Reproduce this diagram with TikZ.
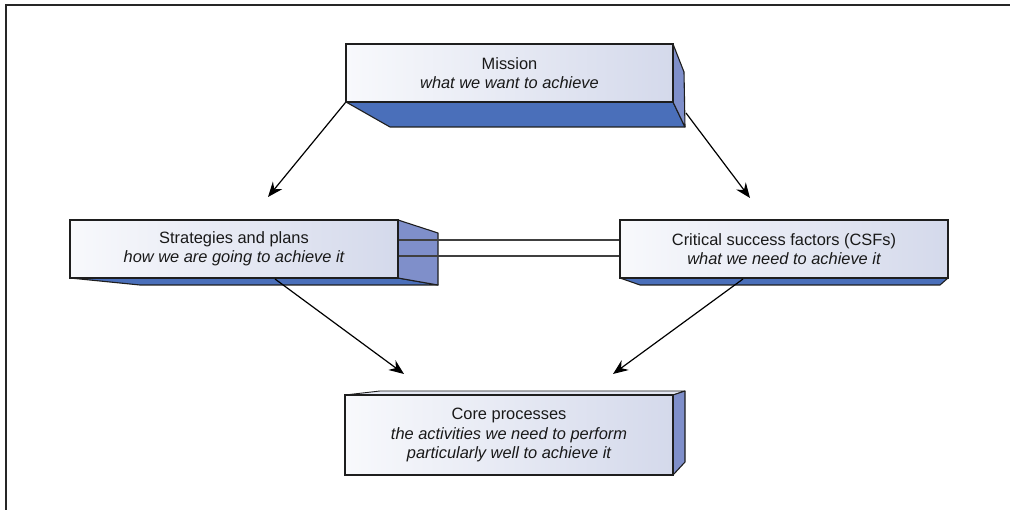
\documentclass[tikz,border=0pt]{standalone}
\usepackage{fontspec}
\setmainfont{Liberation Sans}
\usetikzlibrary{arrows.meta,calc}
\definecolor{botblue}{RGB}{74,111,186}
\definecolor{sideblue}{RGB}{127,143,202}
\definecolor{faceL}{RGB}{248,249,252}
\definecolor{faceR}{RGB}{212,217,235}
\definecolor{edge}{RGB}{30,30,30}
\begin{document}
\begin{tikzpicture}[x=1pt,y=-1pt,
  front/.style={draw=edge,line width=1.1pt,left color=faceL,right color=faceR,
    minimum width=328pt,minimum height=58pt,inner sep=0pt,align=center,
    font=\fontsize{16.4}{19.5}\selectfont,text=black!90},
  botface/.style={fill=botblue,draw=edge,line width=1.1pt,line join=round},
  sideface/.style={fill=sideblue,draw=edge,line width=1.1pt,line join=round},
  arr/.style={line width=1.2pt,draw=black,-{Stealth[length=15pt,width=12pt,inset=5pt]}},
  link/.style={line width=1.2pt,draw=black!75}]
\useasboundingbox (0,0) rectangle (1010,510);
% frame
\draw[line width=2pt,draw=black!85] (6,510) -- (6,5) -- (1010,5);
% mission faces
\path[botface] (346,102) -- (673,102) -- (685,127) -- (390,127) -- cycle;
\path[sideface] (673,44) -- (684,72) -- (685,127) -- (673,102) -- cycle;
% strategies faces
\path[botface] (70,278) -- (398,278) -- (438,285) -- (140,285) -- cycle;
\path[sideface] (398,220) -- (438,233) -- (438,285) -- (398,278) -- cycle;
% csf faces
\path[botface] (620,278) -- (948,278) -- (940,285) -- (640,285) -- cycle;
% core faces
\path[fill=faceR!60!white,draw=edge,line width=0.9pt,line join=round] (345,395) -- (380,391) -- (685,391) -- (673,395) -- cycle;
\path[sideface] (673,395) -- (685,391) -- (685,462) -- (673,475) -- cycle;
% nodes
\node[front,minimum width=327pt] (mission) at (509.5,73) {Mission\\\itshape what we want to achieve};
\node[front] (strat) at (234,249) {Strategies and plans\\\itshape how we are going to achieve it};
\node[front] (csf) at (784,249) {Critical success factors (CSFs)\\\itshape what we need to achieve it};
\node[front,minimum width=328pt,minimum height=80pt] (core) at (509,435) {Core processes\\\itshape the activities we need to perform\\\itshape particularly well to achieve it};
% links
\draw[link] (strat.east |- 0,240) -- (csf.west |- 0,240);
\draw[link] (strat.east |- 0,256) -- (csf.west |- 0,256);
% arrows
\coordinate (a1) at (268,197);
\coordinate (ms) at (686,113);
\coordinate (a2) at (750,198);
\coordinate (ss) at (275,279);
\coordinate (a3) at (404,374);
\coordinate (cs) at (743,279);
\coordinate (a4) at (613,374);
\draw[arr] (mission.south west) -- (a1);
\draw[arr] (ms) -- (a2);
\draw[arr] (ss) -- (a3);
\draw[arr] (cs) -- (a4);
\end{tikzpicture}
\end{document}
